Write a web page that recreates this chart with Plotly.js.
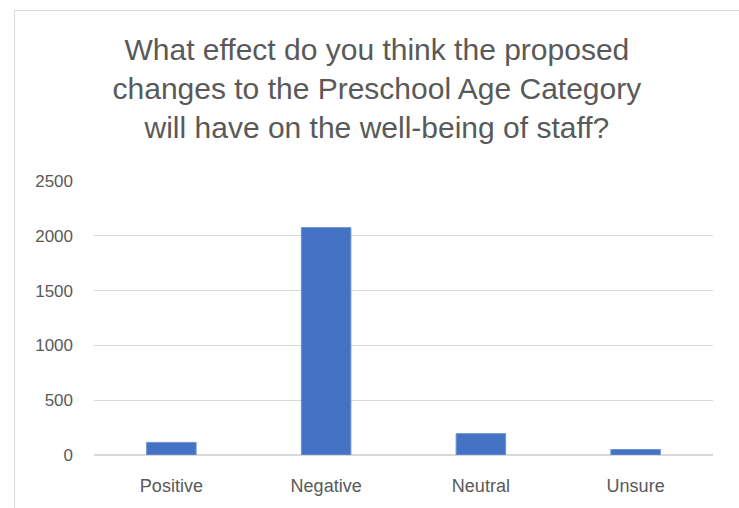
<!DOCTYPE html>
<html>
<head>
<meta charset="utf-8">
<script src="https://cdn.plot.ly/plotly-3.0.1.min.js"></script>
<style>
  html, body { margin: 0; padding: 0; background: #ffffff; }
  #wrap { position: relative; width: 739px; height: 508px; overflow: hidden; }
  #frame { position: absolute; left: 14px; top: 10px; width: 740px; height: 520px; border: 1px solid #d9d9d9; box-sizing: border-box; pointer-events: none; }
  #chart { position: absolute; left: 0; top: 0; width: 739px; height: 508px; }
</style>
</head>
<body>
<div id="wrap">
  <div id="chart"></div>
  <div id="frame"></div>
</div>
<script>
const titleLines = [
  "What effect do you think the proposed",
  "changes to the Preschool Age Category",
  "will have on the well-being of staff?"
];
const categories = ["Positive", "Negative", "Neutral", "Unsure"];
const responses = [115, 2075, 195, 50];
const yTicks = [0, 500, 1000, 1500, 2000, 2500];

const fontFamily = "Liberation Sans, Arial, sans-serif";

const data = [{
  type: "bar",
  x: categories,
  y: responses,
  marker: { color: "#4472C4", line: { color: "#6f93d3", width: 1 } },
  hoverinfo: "x+y"
}];

const layout = {
  width: 739,
  height: 508,
  paper_bgcolor: "#ffffff",
  plot_bgcolor: "#ffffff",
  margin: { l: 94, r: 26, t: 181, b: 53, pad: 0 },
  showlegend: false,
  bargap: 0.68,
  title: {
    text: titleLines.join("<br>"),
    font: { family: fontFamily, size: 30, color: "#595959" },
    x: 0.51,
    xanchor: "center",
    y: 1 - 60 / 508,
    yanchor: "middle",
    yref: "container"
  },
  xaxis: {
    type: "category",
    showgrid: false,
    showline: false,
    zeroline: false,
    ticks: "",
    tickfont: { family: fontFamily, size: 18, color: "#595959" },
    ticklabelstandoff: 18
  },
  yaxis: {
    range: [0, 2500],
    tickvals: yTicks,
    ticktext: yTicks.map(String),
    showgrid: true,
    gridcolor: "#d9d9d9",
    gridwidth: 1.3,
    zeroline: true,
    zerolinecolor: "#d9d9d9",
    zerolinewidth: 1.3,
    showline: false,
    ticks: "",
    tickfont: { family: fontFamily, size: 17, color: "#595959" },
    ticklabelstandoff: 20
  }
};

Plotly.newPlot("chart", data, layout, { displayModeBar: false, staticPlot: true });
</script>
</body>
</html>
